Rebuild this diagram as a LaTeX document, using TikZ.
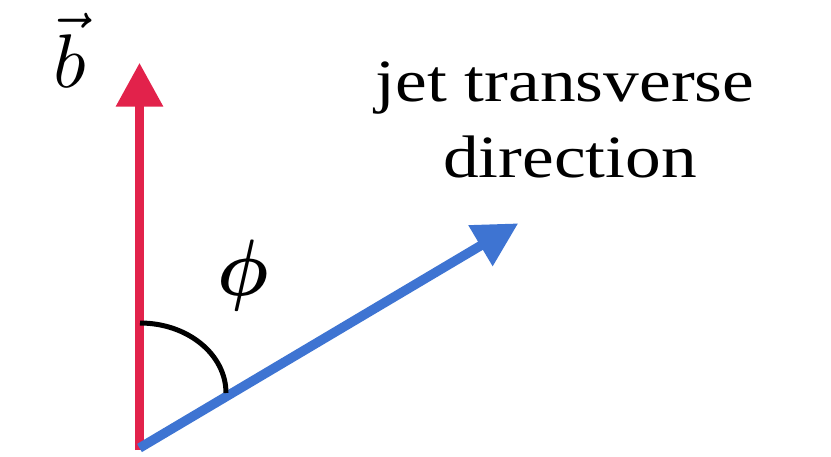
\documentclass[tikz,border=0pt]{standalone}
\usepackage{fontspec}
\usepackage{bm}
\setmainfont{Liberation Serif}
\usetikzlibrary{arrows.meta}
\definecolor{bred}{RGB}{226,34,75}
\definecolor{jblue}{RGB}{62,116,210}
\begin{document}
\begin{tikzpicture}[x=1pt,y=1pt,
  vecarrow/.style={line width=9.5pt,-{Triangle[width=45pt,length=44pt]}},
  anglearc/.style={line width=5pt,black},
  bigtext/.style={inner sep=0pt,anchor=base,font=\fontsize{60}{76}\selectfont}]
\useasboundingbox (0,0) rectangle (831,456);
\coordinate (O) at (139.5,8);
\coordinate (btip) at (139.5,393.3);
\coordinate (jtip) at (518.3,232.7);
\coordinate (arcA) at (140,133);
\draw[vecarrow,bred] (139.5,6) -- (btip);
\draw[vecarrow,jblue] (O) -- (jtip);
\draw[anglearc] (arcA) arc[start angle=90,end angle=0,x radius=86,y radius=70];
\node[inner sep=0pt,anchor=base] (bvec) at (69.5,368) {\scalebox{7.6}{$\vec{b}$}};
\node[inner sep=0pt] (phi) at (243,180) {\scalebox{7.2}[8]{$\bm{\phi}$}};
\node[bigtext] (l1) at (565,354.3) {\scalebox{1.19}[1]{jet transverse}};
\node[bigtext] (l2) at (570,278) {\scalebox{1.19}[1]{direction}};
\end{tikzpicture}
\end{document}
